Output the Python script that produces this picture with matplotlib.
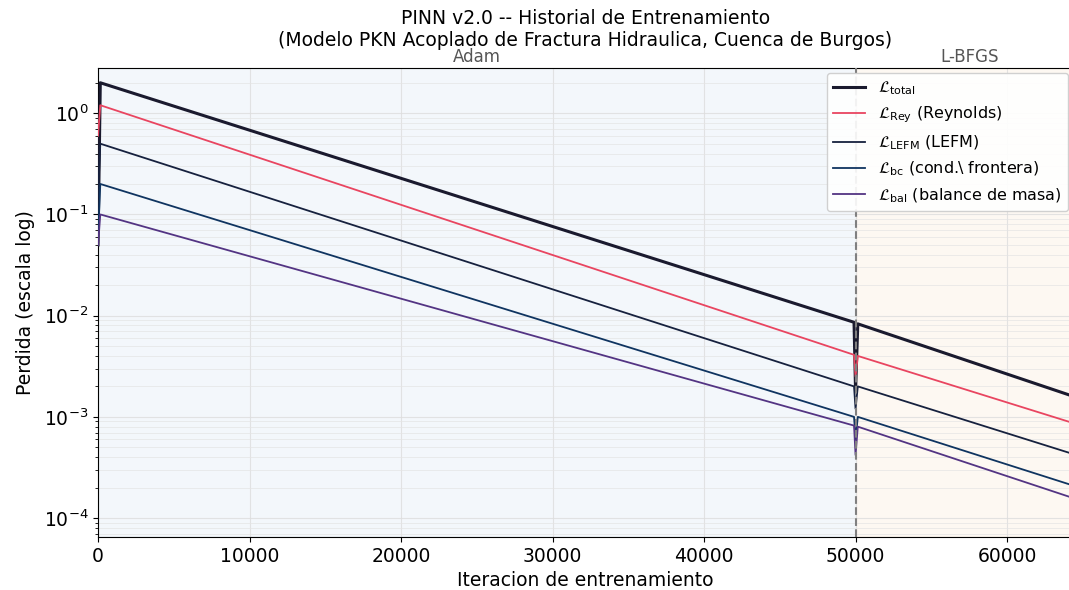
import numpy as np
import matplotlib
matplotlib.use("Agg")
import matplotlib.pyplot as plt

# valores (iteracion, perdida)
iters = [0, 150, 49900, 50000, 50150, 64350]
loss_total = [0.05, 2.0, 0.0086, 0.0018, 0.0083, 0.0016]
loss_rey = [0.6, 1.2, 0.0041, 0.0025, 0.0040, 0.00087]
loss_lefm = [0.15, 0.5, 0.0020, 0.0012, 0.0020, 0.00043]
loss_bc = [0.06, 0.2, 0.0010, 0.0006, 0.0010, 0.00021]
loss_bal = [0.05, 0.1, 0.00082, 0.00042, 0.00080, 0.000158]

adam_end = 50000
x_max = 64350

series = [
    (loss_total, r"$\mathcal{L}_{\rm total}$", "#1a1a2e", 2.2),
    (loss_rey, r"$\mathcal{L}_{\rm Rey}$ (Reynolds)", "#e94560", 1.3),
    (loss_lefm, r"$\mathcal{L}_{\rm LEFM}$ (LEFM)", "#16213e", 1.3),
    (loss_bc, r"$\mathcal{L}_{\rm bc}$ (cond.\ frontera)", "#0f3460", 1.3),
    (loss_bal, r"$\mathcal{L}_{\rm bal}$ (balance de masa)", "#533483", 1.3),
]

fig = plt.figure(figsize=(10.69, 5.9), dpi=100)
ax = fig.add_axes([0.0917, 0.0898, 0.912, 0.795])

ax.axvspan(0, adam_end, color="#e8f0f8", alpha=0.5, zorder=0)
ax.axvspan(adam_end, x_max, color="#fcefe0", alpha=0.4, zorder=0)
ax.axvline(adam_end, color="gray", ls="--", lw=1.5, zorder=4)

for vals, label, color, lw in series:
    ax.semilogy(iters, vals, color=color, lw=lw, label=label, zorder=3)

ax.set_xlim(0, x_max)
ax.set_ylim(6.5e-5, 2.8)
ax.grid(True, which="major", color="#dddddd", lw=0.8, alpha=0.8)
ax.grid(True, which="minor", axis="y", color="#e4e4e4", lw=0.6, alpha=0.8)
ax.spines["right"].set_visible(False)
ax.tick_params(labelsize=13.5)
ax.set_xticks([0, 10000, 20000, 30000, 40000, 50000, 60000])

ax.set_xlabel("Iteracion de entrenamiento", fontsize=13.5)
ax.set_ylabel("Perdida (escala log)", fontsize=13.5, labelpad=6)
ax.set_title("PINN v2.0 -- Historial de Entrenamiento\n"
             "(Modelo PKN Acoplado de Fractura Hidraulica, Cuenca de Burgos)",
             fontsize=13.5, pad=16, linespacing=1.15)

ax.text(25000, 1.005, "Adam", transform=ax.get_xaxis_transform(),
        ha="center", va="bottom", fontsize=12, color="#555555")
ax.text(57500, 1.005, "L-BFGS", transform=ax.get_xaxis_transform(),
        ha="center", va="bottom", fontsize=12, color="#555555")

ax.legend(loc="upper right", fontsize=11.5, framealpha=0.9, borderaxespad=0.3)

fig.savefig("out.png", dpi=100)
